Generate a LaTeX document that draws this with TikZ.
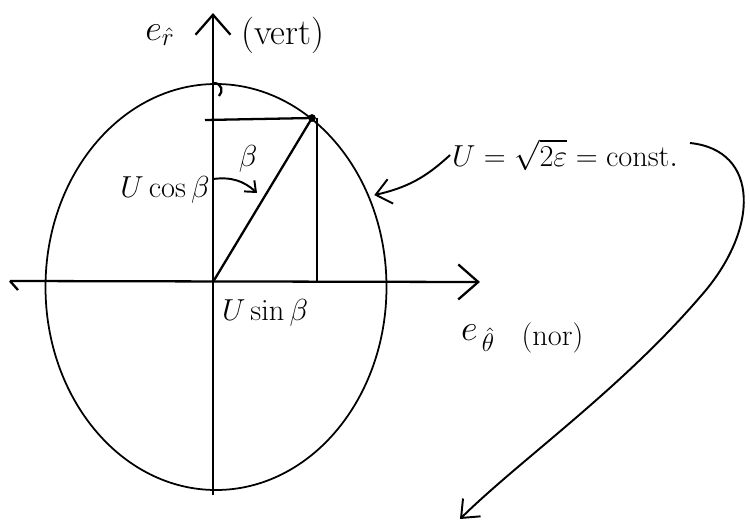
\documentclass[tikz,border=0pt]{standalone}
\usetikzlibrary{arrows.meta,positioning,shapes.geometric}

\begin{document}
\begin{tikzpicture}[
    every node/.style={font=\LARGE, inner sep=1pt},
    axis/.style={line width=1.3pt, -{Straight Barb[length=4mm,width=7mm]}},
    guide/.style={line width=1.3pt},
    pointer/.style={line width=1.1pt, -{Straight Barb[length=3mm,width=5mm]}},
    turn/.style={line width=1.1pt, -{Straight Barb[length=1.8mm,width=3mm]}},
    speed/.style={draw, ellipse, line width=1pt, minimum width=6.82cm, minimum height=8.12cm, inner sep=0pt}
]
\useasboundingbox (-4.26,-4.94) rectangle (10.74,5.64);
\coordinate (O) at (0,0);
\coordinate (tip) at (1.98,3.28);
\coordinate (arcA) at (0,2.06);
\coordinate (arcB) at (0.88,1.78);
\coordinate (tail) at (4.94,-4.74);
\node[speed] (circ) at (0.06,-0.10) {};
% axes
\draw[axis] (0,-4.26) -- (0,5.38);
\draw[axis] (-4.06,0.02) -- (5.34,0);
\draw[guide] (-4.06,0.02) -- (-3.9,-0.16);
\draw[guide] (0,3.98) .. controls (0.2,3.98) and (0.2,3.8) .. (0.12,3.72);
% velocity and its parts
\draw[guide] (O) -- (tip);
\draw[guide] (-0.16,3.24) -- (tip);
\draw[guide] (2.08,3.28) -- (2.08,0);
\fill (tip) circle (2.2pt);
\draw[turn] (arcA) to[bend left=25] (arcB);
% labels
\node (er) at (-1.06,4.94) {\huge $e_{\hat{r}}$};
\node[right=1.25cm of er, font=\huge] (vert) {(vert)};
\node (beta) at (0.7,2.46) {$\beta$};
\node (ucos) at (-0.96,1.84) {$U\cos\beta$};
\node (usin) at (1.04,-0.62) {$U\sin\beta$};
\node (eth) at (5.3,-1.12) {\huge $e_{\,\hat{\theta}}$};
\node[right=0.45cm of eth] (nor) {(nor)};
\node (ulabel) at (7.04,2.54) {$U=\sqrt{2\varepsilon}=\mathrm{const.}$};
\draw[pointer] (ulabel.west) to[bend left=15] ([xshift=3pt]circ.31);
\draw[pointer] ([shift={(0.2,0.24)}]ulabel.east) .. controls (10.94,2.64) and (10.94,1.04) .. (9.74,-0.30)
    .. controls (8.14,-2.16) and (6.14,-3.56) .. (tail);
\end{tikzpicture}
\end{document}
